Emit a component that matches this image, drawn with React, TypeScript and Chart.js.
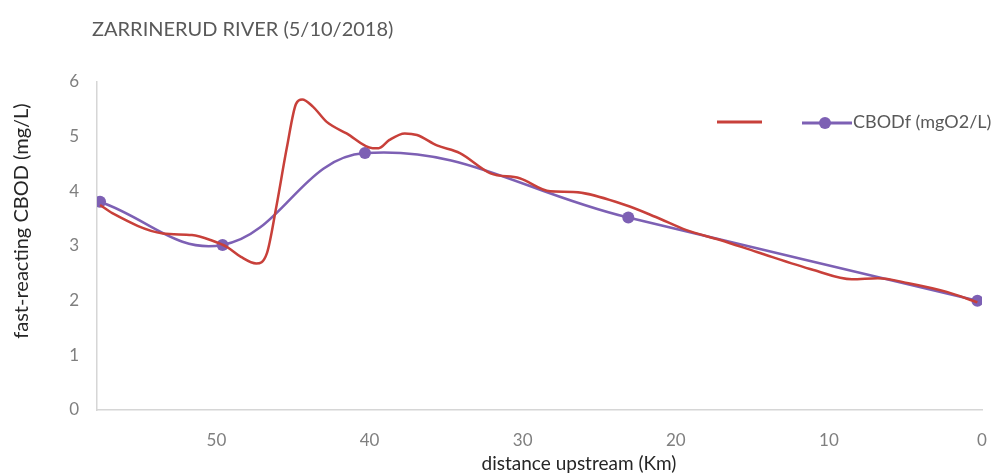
import { useEffect, useRef } from 'react';
import { Chart, registerables } from 'chart.js';

Chart.register(...registerables);

const chartTitle = 'ZARRINERUD RIVER (5/10/2018)';
const xAxisTitle = 'distance upstream (Km)';
const yAxisTitle = 'fast-reacting CBOD (mg/L)';
const observedLabel = 'CBODf (mgO2/L)';
const modelLabel = '';

const observedKm = [57.6, 49.6, 40.3, 23.1, 0.3];
const observedCbod = [3.81, 3.02, 4.7, 3.52, 2.0];

const modelKm = [57.6, 56.8, 53.5, 51.6, 50.3, 49.3, 48.4, 47.4, 46.7, 46.1, 45.4, 44.8, 44.4, 43.7, 42.8, 41.5, 39.8, 39.4, 38.7, 37.7, 36.9, 35.6, 34.1, 32.1, 30.2, 28.2, 26.7, 23.3, 21.3, 19.3, 17.1, 14.7, 11.0, 8.5, 6.8, 4.8, 2.3, 0.3];
const modelCbod = [3.75, 3.6, 3.23, 3.2, 3.1, 2.98, 2.8, 2.68, 2.87, 3.7, 4.8, 5.6, 5.68, 5.55, 5.27, 5.06, 4.79, 4.79, 4.94, 5.06, 5.03, 4.84, 4.7, 4.33, 4.24, 4.0, 3.99, 3.75, 3.53, 3.29, 3.11, 2.89, 2.56, 2.39, 2.41, 2.32, 2.16, 1.97];

const xMin = 0;
const xMax = 57.8;
const xStep = 10;
const yMin = 0;
const yMax = 6;
const yStep = 1;

const RED = '#C8403A';
const PURPLE = '#7D60B4';
const FONT = 'Lato';

export default function App() {
  const ref = useRef<HTMLCanvasElement>(null);

  useEffect(() => {
    const canvas = ref.current;
    if (!canvas) return;

    const overlay = {
      id: 'overlay',
      afterDraw(chart: any) {
        const ctx = chart.ctx;
        ctx.save();
        // chart title
        ctx.fillStyle = '#595959';
        ctx.font = `20px ${FONT}`;
        ctx.textAlign = 'left';
        ctx.textBaseline = 'middle';
        ctx.fillText(chartTitle, 92, 30);

        // legend
        ctx.lineWidth = 3;
        ctx.strokeStyle = RED;
        ctx.beginPath();
        ctx.moveTo(717, 122);
        ctx.lineTo(762, 122);
        ctx.stroke();
        ctx.fillStyle = '#595959';
        ctx.font = `18px ${FONT}`;
        ctx.fillText(modelLabel, 766, 122);

        ctx.strokeStyle = PURPLE;
        ctx.beginPath();
        ctx.moveTo(802, 123);
        ctx.lineTo(852, 123);
        ctx.stroke();
        ctx.fillStyle = PURPLE;
        ctx.beginPath();
        ctx.arc(825, 123, 6, 0, Math.PI * 2);
        ctx.fill();
        ctx.fillStyle = '#595959';
        ctx.fillText(observedLabel, 853, 122);

        // x axis title
        ctx.fillStyle = '#262626';
        ctx.font = `19px ${FONT}`;
        ctx.textAlign = 'center';
        ctx.fillText(xAxisTitle, 579, 464);

        // y axis title
        ctx.translate(22, 221);
        ctx.rotate(-Math.PI / 2);
        ctx.font = `20px ${FONT}`;
        ctx.fillText(yAxisTitle, 0, 0);
        ctx.restore();
      },
    };

    const chart = new Chart(canvas, {
      type: 'line',
      data: {
        datasets: [
          {
            label: modelLabel,
            data: modelKm.map((x, i) => ({ x, y: modelCbod[i] })),
            borderColor: RED,
            backgroundColor: RED,
            borderWidth: 2.5,
            pointRadius: 0,
            cubicInterpolationMode: 'monotone',
          },
          {
            label: observedLabel,
            data: observedKm.map((x, i) => ({ x, y: observedCbod[i] })),
            borderColor: PURPLE,
            backgroundColor: PURPLE,
            borderWidth: 2.5,
            pointRadius: 6,
            pointBorderWidth: 0,
            tension: 0.4,
          },
        ],
      },
      plugins: [overlay],
      options: {
        animation: false,
        responsive: true,
        maintainAspectRatio: false,
        layout: { padding: { top: 82, right: 10, left: 0, bottom: 0 } },
        plugins: {
          legend: { display: false },
          title: { display: false },
          tooltip: { enabled: false },
        },
        scales: {
          x: {
            type: 'linear',
            reverse: true,
            min: xMin,
            max: xMax,
            afterFit: (s: any) => {
              s.height = 65;
              s.paddingLeft = 0;
              s.paddingRight = 0;
            },
            ticks: {
              stepSize: xStep,
              includeBounds: false,
              padding: 20,
              color: '#7f7f7f',
              font: { family: FONT, size: 17 },
              maxRotation: 0,
            },
            grid: { display: false, drawTicks: false },
            border: { display: true, color: '#d6d6d6', width: 1.5 },
          },
          y: {
            min: yMin,
            max: yMax,
            afterFit: (s: any) => {
              s.width = 97;
              s.paddingTop = 0;
              s.paddingBottom = 0;
            },
            ticks: {
              stepSize: yStep,
              padding: 18,
              color: '#7f7f7f',
              font: { family: FONT, size: 17 },
            },
            grid: { display: false, drawTicks: false },
            border: { display: true, color: '#d6d6d6', width: 1.5 },
          },
        },
      },
    });

    return () => chart.destroy();
  }, []);

  return (
    <div style={{ position: 'fixed', left: 0, top: 0, width: 992, height: 475, background: '#fff' }}>
      <canvas ref={ref} />
    </div>
  );
}
